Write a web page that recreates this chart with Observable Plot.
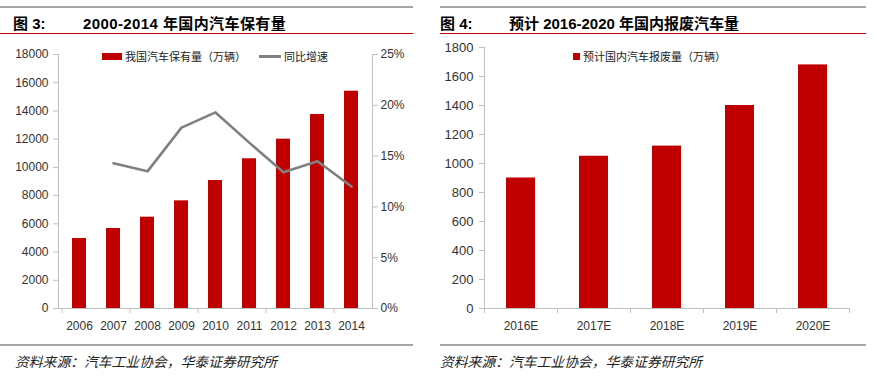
<!DOCTYPE html>
<html><head><meta charset="utf-8">
<script src="https://cdn.jsdelivr.net/npm/d3@7"></script>
<script src="https://cdn.jsdelivr.net/npm/@observablehq/plot@0.6"></script>
<style>
body{margin:0;background:#fff;}
#root{position:relative;width:874px;height:376px;overflow:hidden;background:#fff;}
.hr-grey{position:absolute;height:2px;background:#a6a6a6;}
.hr-red{position:absolute;height:1px;background:#c00000;}
.title{position:absolute;font-weight:bold;font-size:15px;color:#000;font-family:"Liberation Sans","Noto Sans CJK SC",sans-serif;white-space:nowrap;line-height:18px;}
.src{position:absolute;font-style:italic;font-size:13.8px;font-family:"Noto Sans CJK SC",sans-serif;color:#222;white-space:nowrap;line-height:18px;}
.leg{position:absolute;font-size:11px;font-family:"Noto Sans CJK SC",sans-serif;color:#222;line-height:14px;white-space:nowrap;}
.sw{position:absolute;}
.chart{position:absolute;}
</style>
</head>
<body>
<div id="root">
  <div class="hr-grey" style="left:0;top:6px;width:413px;"></div>
  <div class="hr-grey" style="left:440px;top:6px;width:426px;"></div>
  <div class="title" style="left:13px;top:15px;">图 3:</div>
  <div class="title" style="left:83px;top:15px;letter-spacing:0.4px;">2000-2014 年国内汽车保有量</div>
  <div class="title" style="left:440px;top:15px;">图 4:</div>
  <div class="title" style="left:509px;top:15px;">预计 2016-2020 年国内报废汽车量</div>
  <div class="hr-red" style="left:0;top:33px;width:413px;"></div>
  <div class="hr-red" style="left:440px;top:33px;width:426px;"></div>
  <div id="left" class="chart" style="left:0;top:40px;"></div>
  <div id="right" class="chart" style="left:437px;top:40px;"></div>
  <div class="sw" style="left:102px;top:53px;width:20px;height:7px;background:#c00000;"></div>
  <div id="leg1" class="leg" style="left:125px;top:49px;"></div>
  <div class="sw" style="left:259px;top:55px;width:22px;height:3px;background:#808080;"></div>
  <div id="leg2" class="leg" style="left:284px;top:49px;"></div>
  <div class="sw" style="left:573px;top:53px;width:7px;height:7px;background:#c00000;"></div>
  <div id="leg3" class="leg" style="left:583px;top:49px;"></div>
  <div class="hr-grey" style="left:0;top:344px;width:413px;"></div>
  <div class="hr-grey" style="left:440px;top:344px;width:426px;"></div>
  <div id="src1" class="src" style="left:15px;top:352px;"></div>
  <div id="src2" class="src" style="left:440px;top:352px;"></div>
</div>
<script>
// ---- data ----
const years = ["2006", "2007", "2008", "2009", "2010", "2011", "2012", "2013", "2014"];
const stock = [4960, 5670, 6470, 7630, 9070, 10610, 12000, 13750, 15400];
const growth = [null, 14.3, 13.5, 17.8, 19.3, 16.3, 13.4, 14.5, 12.0];
const leftTicks = [0, 2000, 4000, 6000, 8000, 10000, 12000, 14000, 16000, 18000];
const rightTicks = [0, 5, 10, 15, 20, 25];
const fYears = ["2016E", "2017E", "2018E", "2019E", "2020E"];
const scrap = [900, 1050, 1120, 1400, 1680];
const fTicks = [0, 200, 400, 600, 800, 1000, 1200, 1400, 1600, 1800];
const legendLeft = ["我国汽车保有量（万辆）", "同比增速"];
const legendRight = "预计国内汽车报废量（万辆）";
const source = "资料来源：汽车工业协会，华泰证券研究所";

document.getElementById("leg1").textContent = legendLeft[0];
document.getElementById("leg2").textContent = legendLeft[1];
document.getElementById("leg3").textContent = legendRight;
document.getElementById("src1").textContent = source;
document.getElementById("src2").textContent = source;

const axisGrey = "#bfbfbf";
const textCol = "#333";
const barRed = "#c00000";
const font = "'Liberation Sans Narrow','Liberation Sans',sans-serif";

// ---- left chart ----
const dataL = years.map((y, i) => ({year: y, stock: stock[i], growth: growth[i]}));
const leftMax = leftTicks[leftTicks.length - 1];
const pctMax = rightTicks[rightTicks.length - 1];
const toLeft = p => p / pctMax * leftMax;
const L = {w: 412, h: 300, mt: 14, mb: 32, ml: 58, mr: 40};
const stepL = (L.w - L.ml - L.mr) / years.length;

const left = Plot.plot({
  width: L.w, height: L.h, marginTop: L.mt, marginBottom: L.mb, marginLeft: L.ml, marginRight: L.mr,
  style: {fontFamily: font, fontSize: "12px", color: textCol, background: "transparent", overflow: "visible"},
  x: {domain: years, paddingInner: 0.58, paddingOuter: 0.29, axis: null},
  y: {domain: [0, leftMax], axis: null},
  marks: [
    Plot.barY(dataL, {x: "year", y: "stock", fill: barRed}),
    Plot.ruleY([0], {stroke: axisGrey}),
    Plot.frame({anchor: "left", stroke: axisGrey}),
    Plot.frame({anchor: "right", stroke: axisGrey}),
    Plot.axisY(leftTicks, {anchor: "left", label: null, tickSize: 5, tickPadding: 5, stroke: axisGrey, fill: textCol, tickFormat: d => String(d)}),
    Plot.axisY(rightTicks.map(toLeft), {anchor: "right", label: null, tickSize: 5, tickPadding: 3, stroke: axisGrey, fill: textCol, tickFormat: d => Math.round(d / leftMax * pctMax) + "%"}),
    Plot.axisX(years, {anchor: "bottom", label: null, tickSize: 0, tickPadding: 13, fill: textCol}),
    Plot.axisX(years.filter((d, i) => i % 2 === 0), {anchor: "bottom", label: null, tickSize: 5, tickFormat: () => "", stroke: axisGrey, dx: -stepL / 2}),
    Plot.lineY(dataL.filter(d => d.growth != null), {x: "year", y: d => toLeft(d.growth), stroke: "#808080", strokeWidth: 2.6})
  ]
});
document.getElementById("left").appendChild(left);

// ---- right chart ----
const dataR = fYears.map((y, i) => ({year: y, value: scrap[i]}));
const R = {w: 429, h: 300, mt: 7, mb: 32, ml: 47, mr: 17};
const stepR = (R.w - R.ml - R.mr) / fYears.length;
const rMax = fTicks[fTicks.length - 1];

const right = Plot.plot({
  width: R.w, height: R.h, marginTop: R.mt, marginBottom: R.mb, marginLeft: R.ml, marginRight: R.mr,
  style: {fontFamily: font, fontSize: "12px", color: textCol, background: "transparent", overflow: "visible"},
  x: {domain: fYears, paddingInner: 0.6, paddingOuter: 0.3, axis: null},
  y: {domain: [0, rMax], axis: null},
  marks: [
    Plot.barY(dataR, {x: "year", y: "value", fill: barRed}),
    Plot.ruleY([0], {stroke: axisGrey}),
    Plot.frame({anchor: "left", stroke: axisGrey}),
    Plot.axisY(fTicks, {anchor: "left", label: null, tickSize: 5, tickPadding: 6, stroke: axisGrey, fill: textCol, fontSize: 13, tickFormat: d => String(d)}),
    Plot.axisX(fYears, {anchor: "bottom", label: null, tickSize: 0, tickPadding: 13, fill: textCol}),
    Plot.axisX(fYears, {anchor: "bottom", label: null, tickSize: 5, tickFormat: () => "", stroke: axisGrey, dx: -stepR / 2}),
    Plot.axisX(fYears.slice(-1), {anchor: "bottom", label: null, tickSize: 5, tickFormat: () => "", stroke: axisGrey, dx: stepR / 2})
  ]
});
document.getElementById("right").appendChild(right);
</script>
</body></html>
